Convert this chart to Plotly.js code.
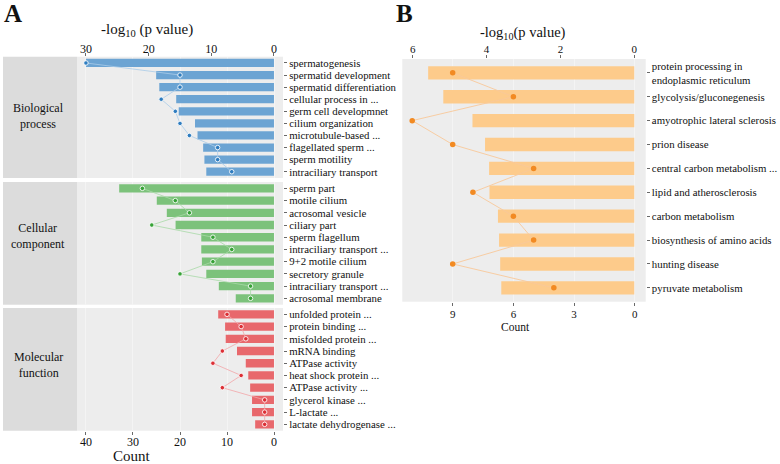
<!DOCTYPE html>
<html>
<head>
<meta charset="utf-8">
<script src="https://cdn.plot.ly/plotly-3.0.1.min.js"></script>
<style>html,body{margin:0;padding:0;background:#fff;}#chart{width:780px;height:464px;}</style>
</head>
<body>
<div id="chart"></div>
<script>
// ---------- Panel A data (GO enrichment) ----------
const bpTerms = ["spermatogenesis","spermatid development","spermatid differentiation","cellular process in ...","germ cell developmnet","cilium organization","microtubule-based ...","flagellated sperm ...","sperm motility","intraciliary transport"];
const bpLogP  = [30.0,18.8,18.3,15.6,15.2,12.6,12.2,11.3,11.1,10.8];
const bpCount = [40,20,20,24,21,20,18,12,12,9];

const ccTerms = ["sperm part","motile cilium","acrosomal vesicle","ciliary part","sperm flagellum","intraciliary transport ...","9+2 motile cilium","secretory granule","intraciliary transport ...\u200b","acrosomal membrane"];
const ccLogP  = [24.7,18.7,17.1,15.7,11.6,11.6,11.5,10.8,8.8,6.1];
const ccCount = [28,21,18,26,13,9,13,20,5,5];

const mfTerms = ["unfolded protein ...","protein binding ...","misfolded protein ...","mRNA binding","ATPase activity","heat shock protein ...","ATPase activity ...","glycerol kinase ...","L-lactate ...","lactate dehydrogenase ..."];
const mfLogP  = [8.9,7.8,7.7,5.9,4.5,4.1,3.8,3.5,3.5,3.0];
const mfCount = [10,7,6,11,13,7,11,2,2,2];

const facetNames = ["Biological<br>process","Cellular<br>component","Molecular<br>function"];

// ---------- Panel B data (KEGG) ----------
const keggTerms = ["protein processing in<br>endoplasmic reticulum","glycolysis/gluconegenesis","amyotrophic lateral sclerosis","prion disease","central carbon metabolism ...","lipid and atherosclerosis","carbon metabolism","biosynthesis of amino acids","hunting disease","pyruvate metabolism"];
const keggLogP  = [5.58,5.17,4.38,4.04,3.93,3.92,3.69,3.66,3.63,3.60];
const keggCount = [9,6,11,9,5,8,6,5,9,4];

// ---------- styling ----------
const W = 780, H = 464;
const px = v => v / W;
const py = v => 1 - v / H;
const SERIF = '"Liberation Serif", "Times New Roman", serif';
const TXT = "#111111";

const facetCols = [
  {bar:"#6CA4D3", dot:"#2F7DC0", line:"#A9CBE8"},
  {bar:"#7CC27B", dot:"#37A237", line:"#A8D9A7"},
  {bar:"#E8686C", dot:"#DC2F35", line:"#F2A6A8"}
];
const facetY = [[56.7,178],[182,304.7],[308,430.7]];
const facetData = [[bpTerms,bpLogP,bpCount],[ccTerms,ccLogP,ccCount],[mfTerms,mfLogP,mfCount]];
const yIds = ["y","y2","y3"];

const traces = [];
facetData.forEach((fd,i)=>{
  const c = facetCols[i];
  traces.push({type:"bar", orientation:"h", x:fd[1], y:fd[0], xaxis:"x", yaxis:yIds[i],
    marker:{color:c.bar, line:{width:0}}, width:0.68, showlegend:false});
});
facetData.forEach((fd,i)=>{
  const c = facetCols[i];
  traces.push({type:"scatter", mode:"lines+markers", x:fd[2], y:fd[0], xaxis:"x2", yaxis:yIds[i],
    line:{color:c.line, width:0.8},
    marker:{color:c.dot, size:4.5, line:{color:"rgba(255,255,255,0.85)", width:1}},
    showlegend:false, cliponaxis:false});
});
traces.push({type:"bar", orientation:"h", x:keggLogP, y:keggTerms, xaxis:"x3", yaxis:"y4",
  marker:{color:"#FDCB8B", line:{width:0}}, width:0.56, showlegend:false});
traces.push({type:"scatter", mode:"lines+markers", x:keggCount, y:keggTerms, xaxis:"x4", yaxis:"y4",
  line:{color:"#F8C89A", width:0.9}, marker:{color:"#F28A22", size:5.5}, showlegend:false, cliponaxis:false});

const tickFontA = {family:SERIF, size:12, color:TXT};
const tickFontB = {family:SERIF, size:11, color:TXT};
const domA = [px(77), px(283)];
const domB = [px(402.3), px(645.7)];

const yBase = (terms, dom, font) => ({
  domain: dom, anchor: "x", side: "right", type: "category",
  categoryorder: "array", categoryarray: terms, range: [9.52, -0.52],
  tickmode: "array", tickvals: terms,
  ticks: "outside", ticklen: 3, tickcolor: "#444", tickwidth: 0.8,
  showgrid: false, zeroline: false, showline: false,
  tickfont: font, fixedrange: true
});
const catFontA = {family:SERIF, size:10.8, color:TXT};

const layout = {
  width: W, height: H,
  margin: {l:0, r:0, t:0, b:0},
  paper_bgcolor: "#ffffff", plot_bgcolor: "#EDEDED",
  xaxis: {domain: domA, anchor: "y", side: "top", range: [31.43, -1.44],
    tickvals: [0,10,20,30], ticks: "outside", ticklen: 3, tickcolor: "#444", tickwidth: 0.8,
    ticklabelstandoff: -5,
    showgrid: false, zeroline: false, showline: false, tickfont: tickFontA},
  xaxis2: {overlaying: "x", anchor: "y3", side: "bottom", range: [41.9, -1.9],
    tickvals: [0,10,20,30,40], ticks: "outside", ticklen: 3, tickcolor: "#444", tickwidth: 0.8,
    ticklabelstandoff: -3,
    showgrid: true, gridcolor: "#F4F4F4", gridwidth: 1, zeroline: false, showline: false, tickfont: tickFontA},
  yaxis: yBase(bpTerms, [py(facetY[0][1]), py(facetY[0][0])], catFontA),
  yaxis2: yBase(ccTerms, [py(facetY[1][1]), py(facetY[1][0])], catFontA),
  yaxis3: yBase(mfTerms, [py(facetY[2][1]), py(facetY[2][0])], catFontA),
  xaxis3: {domain: domB, anchor: "y4", side: "top", range: [6.28, -0.31],
    tickvals: [0,2,4,6], ticks: "outside", ticklen: 3, tickcolor: "#444", tickwidth: 0.8,
    ticklabelstandoff: -2,
    showgrid: false, zeroline: false, showline: false, tickfont: tickFontB},
  xaxis4: {overlaying: "x3", anchor: "y4", side: "bottom", range: [11.49, -0.54],
    tickvals: [0,3,6,9], ticks: "outside", ticklen: 3, tickcolor: "#444", tickwidth: 0.8,
    ticklabelstandoff: -1,
    showgrid: true, gridcolor: "#F4F4F4", gridwidth: 1, zeroline: false, showline: false, tickfont: tickFontB},
  yaxis4: Object.assign(yBase(keggTerms, [py(301.7), py(59)], {family:SERIF,size:10.8,color:TXT}), {anchor:"x3", range:[9.58,-0.58]}),
  shapes: facetY.map(r => ({type:"rect", xref:"paper", yref:"paper",
    x0: px(3), x1: px(77), y0: py(r[1]), y1: py(r[0]), fillcolor: "#DCDCDC", line:{width:0}, layer:"below"})),
  annotations: [
    {text:"<b>A</b>", x:px(13), y:py(14), xref:"paper", yref:"paper", showarrow:false, xanchor:"center", yanchor:"middle", font:{family:SERIF, size:25, color:"#111"}},
    {text:"<b>B</b>", x:px(404), y:py(14), xref:"paper", yref:"paper", showarrow:false, xanchor:"center", yanchor:"middle", font:{family:SERIF, size:25, color:"#111"}},
    {text:"-log<sub>10</sub> (p value)", x:px(147), y:py(30), xref:"paper", yref:"paper", showarrow:false, xanchor:"center", yanchor:"middle", font:{family:SERIF, size:15, color:TXT}},
    {text:"-log<sub>10</sub>(p value)", x:px(523), y:py(33), xref:"paper", yref:"paper", showarrow:false, xanchor:"center", yanchor:"middle", font:{family:SERIF, size:14.5, color:TXT}},
    {text:"Count", x:px(132), y:py(456), xref:"paper", yref:"paper", showarrow:false, xanchor:"center", yanchor:"middle", font:{family:SERIF, size:15, color:TXT}},
    {text:"Count", x:px(515), y:py(327), xref:"paper", yref:"paper", showarrow:false, xanchor:"center", yanchor:"middle", font:{family:SERIF, size:11.5, color:TXT}},
    {text:facetNames[0], x:px(38), y:py(116), xref:"paper", yref:"paper", showarrow:false, xanchor:"center", yanchor:"middle", font:{family:SERIF, size:12, color:TXT}},
    {text:facetNames[1], x:px(38), y:py(236), xref:"paper", yref:"paper", showarrow:false, xanchor:"center", yanchor:"middle", font:{family:SERIF, size:12, color:TXT}},
    {text:facetNames[2], x:px(38), y:py(365), xref:"paper", yref:"paper", showarrow:false, xanchor:"center", yanchor:"middle", font:{family:SERIF, size:12, color:TXT}}
  ]
};

Plotly.newPlot("chart", traces, layout, {displayModeBar:false, staticPlot:true});
</script>
</body>
</html>
